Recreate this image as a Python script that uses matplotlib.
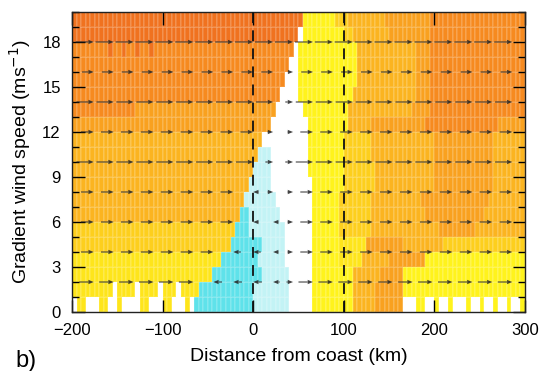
import numpy as np
import matplotlib
matplotlib.use("Agg")
import matplotlib.pyplot as plt
from matplotlib.colors import ListedColormap, BoundaryNorm
from matplotlib.ticker import MultipleLocator

plt.rcParams['font.family'] = ['Liberation Sans', 'DejaVu Sans']

# ---- data ---------------------------------------------------------------
level_codes = ['C', 'c', 'w', 'Y', 'y', 'g', 'l', 'm', 'o', 'r']
level_colors = ['#5fe2ea', '#c3f3f5', '#ffffff', '#fff31c', '#fee51b',
                '#fdcf1d', '#fbb420', '#f9a11f', '#f68a1f', '#f0721f']

distance_edges = np.arange(-200, 305, 5)      # km
wind_edges = np.arange(0, 21, 1)              # m/s

# each row (1 m/s band, bottom to top): list of (start distance, level)
row_segments = [
    # 0-1
    [(-200, 'w'), (-195, 'y'), (-185, 'w'), (-170, 'y'), (-160, 'w'), (-150, 'y'),
     (-145, 'w'), (-125, 'y'), (-115, 'w'), (-100, 'y'), (-90, 'w'), (-75, 'y'),
     (-70, 'w'), (-65, 'C'), (0, 'c'), (40, 'w'), (63, 'Y'), (112, 'l'), (135, 'm'),
     (165, 'w'), (180, 'Y'), (190, 'w'), (200, 'Y'), (205, 'w'), (215, 'Y'),
     (220, 'w'), (235, 'Y'), (240, 'w'), (250, 'Y'), (255, 'w'), (265, 'Y'),
     (270, 'w'), (280, 'Y'), (285, 'w'), (295, 'Y')],
    # 1-2
    [(-200, 'y'), (-155, 'w'), (-150, 'y'), (-130, 'w'), (-125, 'y'), (-105, 'w'),
     (-100, 'y'), (-85, 'w'), (-80, 'y'), (-58, 'C'), (0, 'c'), (40, 'w'),
     (63, 'Y'), (112, 'l'), (135, 'm'), (165, 'Y')],
    # 2-3
    [(-200, 'y'), (-45, 'C'), (8, 'c'), (40, 'w'), (66, 'Y'), (112, 'l'),
     (140, 'm'), (165, 'Y')],
    # 3-4
    [(-200, 'y'), (-35, 'C'), (3, 'c'), (35, 'w'), (63, 'Y'), (96, 'y'),
     (118, 'l'), (150, 'm'), (192, 'Y')],
    # 4-5
    [(-200, 'g'), (-25, 'C'), (8, 'c'), (33, 'w'), (65, 'Y'), (96, 'y'),
     (125, 'm'), (165, 'l'), (210, 'g')],
    # 5-6
    [(-200, 'g'), (-20, 'C'), (-5, 'c'), (33, 'w'), (63, 'Y'), (96, 'g'),
     (132, 'l'), (205, 'm'), (245, 'l')],
    # 6-7
    [(-200, 'l'), (-15, 'C'), (-5, 'c'), (28, 'w'), (63, 'Y'), (96, 'g'),
     (132, 'l'), (190, 'm'), (255, 'l')],
    # 7-8
    [(-200, 'l'), (-10, 'c'), (25, 'w'), (65, 'Y'), (96, 'g'), (132, 'l'),
     (187, 'm'), (260, 'l')],
    # 8-9
    [(-200, 'l'), (-5, 'c'), (22, 'w'), (64, 'Y'), (100, 'g'), (137, 'l'),
     (198, 'm'), (265, 'l')],
    # 9-10
    [(-200, 'l'), (2, 'c'), (20, 'w'), (62, 'Y'), (100, 'g'), (137, 'l'),
     (198, 'm'), (265, 'l')],
    # 10-11
    [(-200, 'l'), (5, 'c'), (20, 'w'), (62, 'Y'), (100, 'g'), (130, 'l'),
     (200, 'm'), (265, 'l')],
    # 11-12
    [(-200, 'l'), (8, 'w'), (62, 'Y'), (100, 'g'), (130, 'l'), (200, 'm'),
     (265, 'l')],
    # 12-13
    [(-200, 'm'), (20, 'w'), (58, 'Y'), (105, 'l'), (130, 'm'), (190, 'o'),
     (270, 'm')],
    # 13-14
    [(-200, 'o'), (-130, 'm'), (25, 'w'), (55, 'Y'), (105, 'l'), (175, 'm'),
     (195, 'o')],
    # 14-15
    [(-200, 'o'), (30, 'w'), (50, 'Y'), (110, 'l'), (180, 'm'), (195, 'o')],
    # 15-16
    [(-200, 'o'), (35, 'w'), (50, 'Y'), (115, 'l'), (180, 'm'), (195, 'o')],
    # 16-17
    [(-200, 'o'), (40, 'w'), (50, 'Y'), (115, 'l'), (180, 'm'), (195, 'o')],
    # 17-18
    [(-200, 'o'), (-160, 'r'), (-155, 'o'), (-145, 'r'), (-140, 'o'),
     (-130, 'r'), (-125, 'o'), (-115, 'r'), (-110, 'o'), (45, 'w'), (52, 'Y'),
     (115, 'l'), (180, 'm'), (195, 'o')],
    # 18-19
    [(-200, 'r'), (50, 'w'), (55, 'Y'), (100, 'g'), (110, 'l'), (150, 'm'),
     (195, 'o')],
    # 19-20
    [(-200, 'r'), (55, 'Y'), (90, 'g'), (107, 'l'), (143, 'm'), (195, 'o')],
]

arrow_rows = [2, 4, 6, 8, 10, 12, 14, 16, 18]          # m/s
arrow_len = [16, 14, 14, 14, 19, 14, 19, 13, 20]       # km
arrow_x = np.arange(-198, 300, 22)                     # km
arrow_factor = {'C': -0.6, 'c': -0.45, 'w': 0.45}      # reversed / weak in wedge

coast_lines = [0, 100]

# ---- build grid ---------------------------------------------------------
xc = (distance_edges[:-1] + distance_edges[1:]) / 2
grid = np.zeros((len(wind_edges) - 1, len(xc)), dtype=int)
for i, segs in enumerate(row_segments):
    starts = np.array([s for s, _ in segs])
    for j, x in enumerate(xc):
        k = np.searchsorted(starts, x, side='right') - 1
        grid[i, j] = level_codes.index(segs[k][1])

cmap = ListedColormap(level_colors)
norm = BoundaryNorm(np.arange(-0.5, len(level_colors) + 0.5, 1), cmap.N)

fig = plt.figure(figsize=(5.42, 3.71), dpi=100)
ax = fig.add_axes([0.1328, 0.159, 0.8358, 0.8087])

ax.pcolormesh(distance_edges, wind_edges, grid, cmap=cmap, norm=norm,
              edgecolors=(1, 1, 1, 0.12), linewidth=0.3)

# arrows
X, Y = np.meshgrid(arrow_x, arrow_rows)
U = np.zeros_like(X, dtype=float)
for r, yv in enumerate(arrow_rows):
    row = int(yv)
    for c, xv in enumerate(arrow_x):
        j = min(max(int((xv + 200) // 5), 0), len(xc) - 1)
        code = level_codes[grid[row, j]]
        U[r, c] = arrow_len[r] * arrow_factor.get(code, 1.0)
V = np.zeros_like(U)
ax.quiver(X, Y, U, V, angles='xy', scale_units='xy', scale=1, pivot='tip',
          units='dots', width=1.1, headwidth=4, headlength=5, headaxislength=4.5,
          color='#222222', alpha=0.85, zorder=3)

for xv in coast_lines:
    ax.axvline(xv, color='#111111', lw=1.3, ls=(0, (6, 4)), zorder=4)

ax.set_xlim(-200, 300)
ax.set_ylim(0, 20)
ax.xaxis.set_major_locator(MultipleLocator(100))
ax.yaxis.set_major_locator(MultipleLocator(3))
ax.yaxis.set_minor_locator(MultipleLocator(1))
ax.tick_params(which='both', direction='in', top=True, right=True,
               labelsize=12, pad=8, width=1)
ax.tick_params(which='major', length=9)
ax.tick_params(which='minor', length=5)
for s in ax.spines.values():
    s.set_linewidth(1.0)
    s.set_color('#222222')

ax.set_xlabel('Distance from coast (km)', fontsize=14)
ax.set_ylabel('Gradient wind speed (ms$^{-1}$)', fontsize=14)
ax.xaxis.set_label_coords(0.5, -0.12)
ax.yaxis.set_label_coords(-0.085, 0.5)

fig.text(0.028, 0.012, 'b)', fontsize=17)

fig.savefig('out.png', dpi=100)
